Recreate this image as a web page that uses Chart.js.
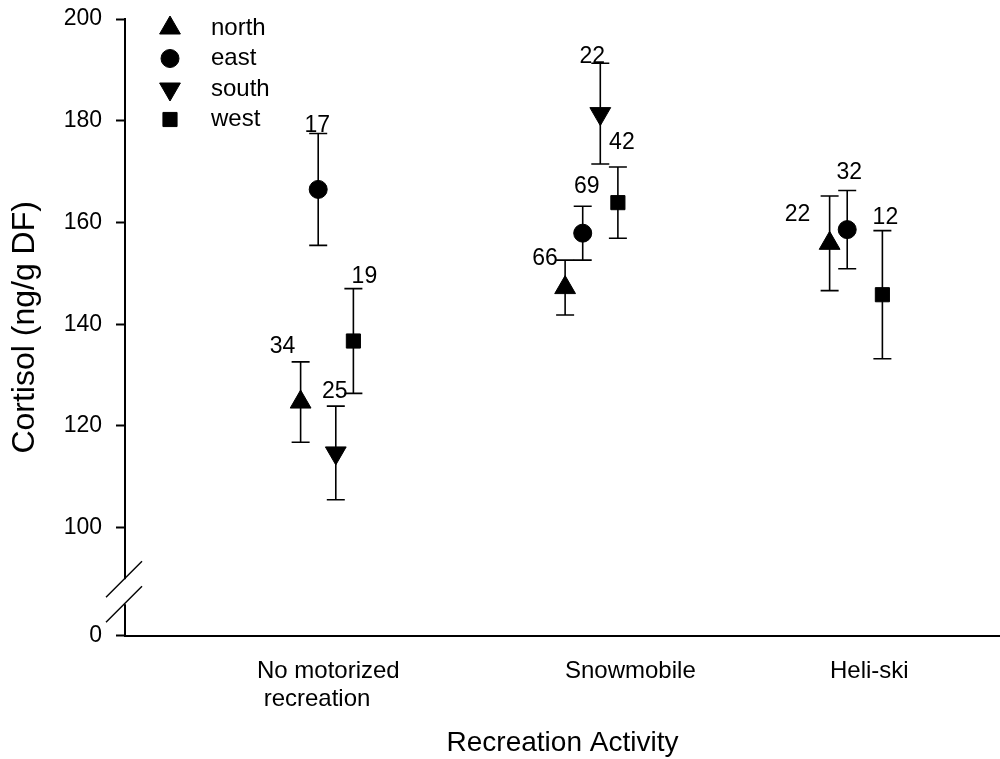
<!DOCTYPE html>
<html>
<head>
<meta charset="utf-8">
<script src="https://cdn.jsdelivr.net/npm/chart.js@4.4.1/dist/chart.umd.min.js"></script>
<style>
html,body{margin:0;padding:0;background:#fff;}
#wrap{width:1000px;height:759px;position:relative;}
</style>
</head>
<body>
<div id="wrap"><canvas id="c" width="1000" height="759"></canvas></div>
<script>
// ---------------- data ----------------
const categories = [['No motorized', ' recreation'], ['Snowmobile'], ['Heli-ski']];
const seriesNames = ['north', 'east', 'south', 'west'];

const northMean = [124.7, 147.2, 155.9];
const northErr  = [7.9, 5.4, 9.3];
const northN    = [34, 66, 22];

const eastMean  = [166.5, 157.9, 158.6];
const eastErr   = [11.0, 5.3, 7.7];
const eastN     = [17, 69, 32];

const southMean = [114.7, 181.4, null];
const southErr  = [9.2, 9.9, null];
const southN    = [25, 22, null];

const westMean  = [136.7, 163.9, 145.8];
const westErr   = [10.3, 7.0, 12.6];
const westN     = [19, 42, 12];

const yTickValues = [0, 100, 120, 140, 160, 180, 200];

// ---------------- layout / style constants ----------------
const FONT = "'Liberation Sans', Arial, Helvetica, sans-serif";
const BREAK_FLOOR = 78.77;          // scale value at which the "0" tick is drawn (broken axis)
const GROUP_STEP = 0.0665;          // spacing of the four series inside a group
const seriesOffset = [-1.5, -0.5, 0.5, 1.5];
const X_MIN = 0.2363, X_MAX = 3.5444;
const categoryLabelAt = [0.7353, 1.8998, 2.9017]; // left edge of each category label
// label nudges in px [dx, dy] relative to the top cap of each error bar
const labelNudge = [
  [[-18, -15], [-20, -1], [-32, 19]],
  [[-1, -8], [4, -20], [2, -18]],
  [[-1, -14], [-8, -7], null],
  [[11, -12], [4, -24], [3, -13]]
];

const means = [northMean, eastMean, southMean, westMean];
const errs  = [northErr, eastErr, southErr, westErr];
const ns    = [northN, eastN, southN, westN];
const styles = [
  { pointStyle: 'triangle', radius: 12, rotation: 0 },
  { pointStyle: 'circle',   radius: 9,  rotation: 0 },
  { pointStyle: 'triangle', radius: 12, rotation: 180 },
  { pointStyle: 'rect',     radius: 10, rotation: 0 }
];

const datasets = seriesNames.map((name, si) => {
  const pts = [];
  categories.forEach((c, ci) => {
    if (means[si][ci] == null) return;
    pts.push({ x: ci + 1 + seriesOffset[si] * GROUP_STEP, y: means[si][ci], err: errs[si][ci], n: ns[si][ci], ci: ci });
  });
  return {
    label: name,
    data: pts,
    pointStyle: styles[si].pointStyle,
    pointRadius: styles[si].radius,
    pointRotation: styles[si].rotation,
    pointBackgroundColor: '#000',
    pointBorderColor: '#000',
    pointBorderWidth: 1,
    showLine: false,
    clip: false
  };
});

function drawMarker(ctx, st, x, y) {
  if (Chart.helpers && Chart.helpers.drawPoint) {
    Chart.helpers.drawPoint(ctx, { pointStyle: st.pointStyle, radius: st.radius, rotation: st.rotation, borderWidth: 1 }, x, y);
    return;
  }
  const r = st.radius;
  ctx.beginPath();
  if (st.pointStyle === 'circle') {
    ctx.arc(x, y, r, 0, Math.PI * 2);
  } else if (st.pointStyle === 'rect') {
    const s = r * Math.SQRT1_2;
    ctx.rect(x - s, y - s, 2 * s, 2 * s);
  } else {
    let rad = st.rotation * Math.PI / 180;
    ctx.moveTo(x + Math.sin(rad) * r, y - Math.cos(rad) * r);
    rad += 2 * Math.PI / 3;
    ctx.lineTo(x + Math.sin(rad) * r, y - Math.cos(rad) * r);
    rad += 2 * Math.PI / 3;
    ctx.lineTo(x + Math.sin(rad) * r, y - Math.cos(rad) * r);
    ctx.closePath();
  }
  ctx.fill();
  ctx.stroke();
}

const errorBars = {
  id: 'errorBars',
  beforeDatasetsDraw(chart) {
    const { ctx, scales: { x, y } } = chart;
    ctx.save();
    ctx.strokeStyle = '#000';
    ctx.lineWidth = 1.6;
    chart.data.datasets.forEach(ds => {
      ds.data.forEach(p => {
        const px = x.getPixelForValue(p.x);
        const top = y.getPixelForValue(p.y + p.err);
        const bot = y.getPixelForValue(p.y - p.err);
        ctx.beginPath();
        ctx.moveTo(px, top); ctx.lineTo(px, bot);
        ctx.moveTo(px - 9, top); ctx.lineTo(px + 9, top);
        ctx.moveTo(px - 9, bot); ctx.lineTo(px + 9, bot);
        ctx.stroke();
      });
    });
    ctx.restore();
  }
};

const nLabels = {
  id: 'nLabels',
  afterDatasetsDraw(chart) {
    const { ctx, scales: { x, y } } = chart;
    ctx.save();
    ctx.fillStyle = '#000';
    ctx.font = '23px ' + FONT;
    ctx.textAlign = 'center';
    ctx.textBaseline = 'middle';
    chart.data.datasets.forEach((ds, si) => {
      ds.data.forEach(p => {
        const nudge = labelNudge[si][p.ci] || [0, -12];
        const px = x.getPixelForValue(p.x);
        const top = y.getPixelForValue(p.y + p.err);
        ctx.fillText(String(p.n), px + nudge[0], top + nudge[1]);
      });
    });
    ctx.restore();
  }
};

const customLegend = {
  id: 'customLegend',
  afterDraw(chart) {
    const { ctx, chartArea } = chart;
    ctx.save();
    ctx.fillStyle = '#000';
    ctx.strokeStyle = '#000';
    ctx.lineWidth = 1;
    ctx.font = '24px ' + FONT;
    ctx.textAlign = 'left';
    ctx.textBaseline = 'middle';
    seriesNames.forEach((name, i) => {
      const yy = chartArea.top + 9 + i * 30.5;
      drawMarker(ctx, styles[i], chartArea.left + 45, yy);
      ctx.fillText(name, chartArea.left + 86, yy);
    });
    ctx.restore();
  }
};

const axisBreak = {
  id: 'axisBreak',
  afterDraw(chart) {
    const { ctx, chartArea } = chart;
    const ax = chartArea.left - 1;
    const y1 = chartArea.bottom - 56.5;
    const y2 = chartArea.bottom - 31.5;
    ctx.save();
    ctx.fillStyle = '#fff';
    ctx.fillRect(ax - 3, y1, 6, y2 - y1);
    ctx.strokeStyle = '#000';
    ctx.lineWidth = 1.5;
    [y1, y2].forEach(yc => {
      ctx.beginPath();
      ctx.moveTo(ax - 18, yc + 18);
      ctx.lineTo(ax + 18, yc - 18);
      ctx.stroke();
    });
    ctx.restore();
  }
};

function zeroPad(s) {
  s.paddingTop = 0; s.paddingBottom = 0; s.paddingLeft = 0; s.paddingRight = 0;
}

Chart.defaults.font.family = FONT;
Chart.defaults.color = '#000';

new Chart(document.getElementById('c'), {
  type: 'scatter',
  data: { datasets: datasets },
  options: {
    responsive: false,
    animation: false,
    devicePixelRatio: 1,
    events: [],
    layout: { autoPadding: false, padding: { top: 19, left: 0, right: 0, bottom: 0 } },
    plugins: { legend: { display: false }, tooltip: { enabled: false } },
    scales: {
      x: {
        type: 'linear',
        min: X_MIN,
        max: X_MAX,
        afterBuildTicks: s => { s.ticks = categoryLabelAt.map(v => ({ value: v })); },
        afterFit: s => { s.height = 123.3; zeroPad(s); },
        ticks: {
          align: 'start',
          padding: 22,
          autoSkip: false,
          maxRotation: 0,
          color: '#000',
          font: { size: 24, lineHeight: 1.1667 },
          callback: (v, i) => categories[i]
        },
        grid: { display: true, drawOnChartArea: false, drawTicks: false },
        border: { display: true, color: '#000', width: 2 },
        title: {
          display: true, text: 'Recreation Activity', color: '#000',
          font: { size: 28, lineHeight: 1 }, padding: { top: 0, bottom: 1.5 }
        }
      },
      y: {
        type: 'linear',
        min: BREAK_FLOOR,
        max: 200,
        afterBuildTicks: s => { s.ticks = yTickValues.map(v => ({ value: v < 100 ? BREAK_FLOOR : v })); },
        afterFit: s => { s.width = 125; zeroPad(s); },
        ticks: {
          padding: 14,
          autoSkip: false,
          color: '#000',
          font: { size: 23 },
          callback: (v, i) => String(yTickValues[i])
        },
        grid: { drawOnChartArea: false, drawTicks: true, tickLength: 9, tickColor: '#000', tickWidth: 2 },
        border: { display: true, color: '#000', width: 2 },
        title: {
          display: true, text: 'Cortisol (ng/g DF)', color: '#000',
          font: { size: 32, lineHeight: 1 }, padding: { top: 9, bottom: 0 }
        }
      }
    }
  },
  plugins: [errorBars, nLabels, customLegend, axisBreak]
});
</script>
</body>
</html>
